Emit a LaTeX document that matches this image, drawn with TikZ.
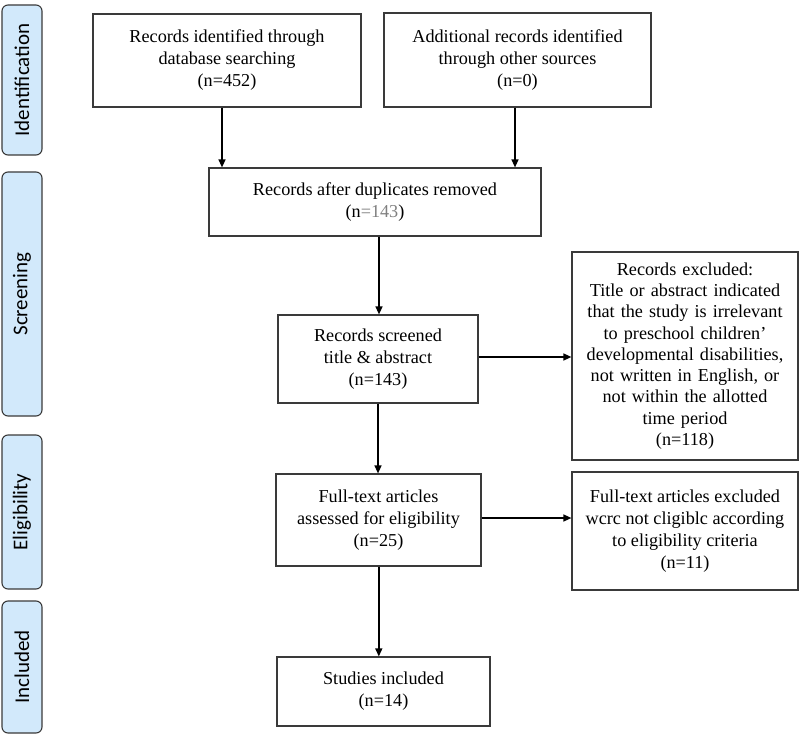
\documentclass[tikz,border=0pt]{standalone}
\usepackage{fontspec}
\setmainfont{Liberation Serif}
\newfontfamily\labfont{Carlito}
\usetikzlibrary{arrows.meta}
\definecolor{labfill}{HTML}{D2E9FB}
\definecolor{boxline}{HTML}{3A3A3A}
\tikzset{
  flowbox/.style={draw=boxline, line width=1.2pt, fill=white, align=center, inner sep=2pt,
    font=\fontsize{18.2}{22}\selectfont},
  phase/.style={draw=boxline, line width=1.1pt, fill=labfill, rounded corners=6pt,
    minimum width=40pt, rotate=90, font=\labfont\fontsize{21}{24}\selectfont},
  arr/.style={line width=1.4pt, -{Triangle[length=8pt,width=7pt]}}
}
\begin{document}
\begin{tikzpicture}[x=1pt,y=-1pt]
\useasboundingbox (0,0) rectangle (800,735);
% phase labels
\node[phase, minimum width=150pt, minimum height=40pt] (p1) at (22,80) {Identification};
\node[phase, minimum width=244pt, minimum height=40pt] (p2) at (22,294) {Screening};
\node[phase, minimum width=154pt, minimum height=40pt] (p3) at (22,512) {Eligibility};
\node[phase, minimum width=132pt, minimum height=40pt] (p4) at (22,667) {Included};
% boxes
\node[flowbox, minimum width=268pt, minimum height=93pt] (b1) at (227,60.5)
  {Records identified through\\database searching\\(n=452)};
\node[flowbox, minimum width=267pt, minimum height=94pt] (b2) at (517.5,60)
  {Additional records identified\\through other sources\\(n=0)};
\node[flowbox, minimum width=332pt, minimum height=68pt] (b3) at (375,202)
  {Records after duplicates removed\\(n{\color{gray}=143})};
\node[flowbox, minimum width=200pt, minimum height=88pt] (b4) at (378,359)
  {Records screened\\title \& abstract\\(n=143)};
\node[flowbox, minimum width=226pt, minimum height=208pt, text width=220pt,
  font=\fontsize{18.2}{21.3}\selectfont] (b5) at (685,356)
  {Records excluded:\\Title or abstract indicated\\that the study is irrelevant\\to preschool children'\\developmental disabilities,\\not written in English, or\\not within the allotted\\time period\\(n=118)};
\node[flowbox, minimum width=205pt, minimum height=92pt] (b6) at (378.5,520)
  {Full-text articles\\assessed for eligibility\\(n=25)};
\node[flowbox, minimum width=226pt, minimum height=118pt] (b7) at (685,531)
  {Full-text articles excluded\\wcrc not cligiblc according\\to eligibility criteria\\(n=11)};
\node[flowbox, minimum width=213pt, minimum height=69pt] (b8) at (383.5,691.5)
  {Studies included\\(n=14)};
% connectors
\draw[arr] ([xshift=-5pt]b1.south) -- ([xshift=-5pt]b1.south |- b3.north);
\draw[arr] ([xshift=-2.5pt]b2.south) -- ([xshift=-2.5pt]b2.south |- b3.north);
\draw[arr] ([xshift=4pt]b3.south) -- ([xshift=4pt]b3.south |- b4.north);
\draw[arr] ([yshift=2pt]b4.east) -- ([yshift=2pt]b4.east -| b5.west);
\draw[arr] (b4.south) -- (b4.south |- b6.north);
\draw[arr] ([yshift=2pt]b6.east) -- ([yshift=2pt]b6.east -| b7.west);
\draw[arr] ([xshift=0.3pt]b6.south) -- ([xshift=0.3pt]b6.south |- b8.north);
\end{tikzpicture}
\end{document}
